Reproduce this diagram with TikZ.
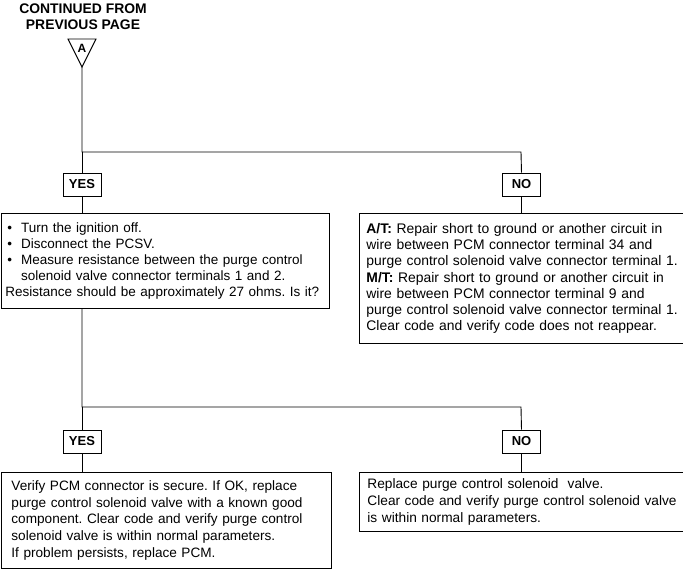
\documentclass[tikz,border=0pt]{standalone}
\usepackage{fontspec}
\setmainfont{Liberation Sans}
\frenchspacing
\begin{document}
\begin{tikzpicture}[x=1pt,y=-1pt,
  every node/.style={font=\fontsize{13.7}{16.3}\selectfont},
  lbl/.style={draw,line width=0.9pt,font=\fontsize{13}{14}\selectfont\bfseries,minimum width=38pt,minimum height=23pt,inner sep=0pt},
  textbox/.style={draw,line width=0.9pt,anchor=north west,align=left,inner ysep=0pt},
  conn/.style={line width=0.9pt}]
\useasboundingbox (0,0) rectangle (683,570);
% title
\node (title) at (83,17) [align=center,font=\fontsize{13.9}{16}\selectfont\bfseries] {CONTINUED FROM\\PREVIOUS PAGE};
\draw[line width=0.9pt] (68,39) -- (96,39) -- (82,67) -- cycle;
\node (A) at (82,48) [font=\fontsize{12}{12}\selectfont\bfseries,inner sep=0pt] {A};
\coordinate (tip) at (82,67);
\coordinate (s1) at (82,152);
\coordinate (s1r) at (521,152);
\node[lbl] (yes1) at (82,184.5) {YES};
\node[lbl] (no1) at (521.5,184.5) {NO};
\node[textbox,minimum width=328pt,minimum height=95pt,text width=320pt,inner xsep=4pt,font=\fontsize{13.5}{16.1}\selectfont] (b1) at (1,213) {%
\hspace{2pt}\textbullet\ \ Turn the ignition off.\\
\hspace{2pt}\textbullet\ \ Disconnect the PCSV.\\
\hspace{2pt}\textbullet\ \ Measure resistance between the purge control\\
\hphantom{\hspace{2pt}\textbullet\ \ }solenoid valve connector terminals 1 and 2.\\
Resistance should be approximately 27 ohms. Is it?};
\node[textbox,minimum width=322pt,minimum height=130pt,text width=312pt,inner xsep=7pt,font=\fontsize{13.9}{16.3}\selectfont] (b2) at (359,213) {%
\textbf{A/T:} Repair short to ground or another circuit in\\
wire between PCM connector terminal 34 and\\
purge control solenoid valve connector terminal 1.\\
\textbf{M/T:} Repair short to ground or another circuit in\\
wire between PCM connector terminal 9 and\\
purge control solenoid valve connector terminal 1.\\
Clear code and verify code does not reappear.};
\coordinate (s2) at (82,407);
\coordinate (s2r) at (521,407);
\node[lbl] (yes2) at (82,441.5) {YES};
\node[lbl] (no2) at (521.5,441.5) {NO};
\node[textbox,minimum width=328pt,minimum height=96pt,text width=310pt,inner xsep=10pt,font=\fontsize{13.6}{16.6}\selectfont] (b3) at (1,472) {%
Verify PCM connector is secure. If OK, replace\\
purge control solenoid valve with a known good\\
component. Clear code and verify purge control\\
solenoid valve is within normal parameters.\\
If problem persists, replace PCM.};
\node[textbox,minimum width=322pt,minimum height=59pt,text width=312pt,inner xsep=8pt,font=\fontsize{13.7}{16.6}\selectfont] (b4) at (359,472) {%
Replace purge control solenoid\ \ valve.\\
Clear code and verify purge control solenoid valve\\
is within normal parameters.};
% connectors
\draw[conn] (tip) -- (s1) -- (s1r) -- (no1.north);
\draw[conn] (s1) -- (yes1.north);
\draw[conn] (yes1.south) -- (yes1.south |- b1.north);
\draw[conn] (no1.south) -- (no1.south |- b2.north);
\draw[conn] (yes1.south |- b1.south) -- (s2) -- (s2r) -- (no2.north);
\draw[conn] (s2) -- (yes2.north);
\draw[conn] (yes2.south) -- (yes2.south |- b3.north);
\draw[conn] (no2.south) -- (no2.south |- b4.north);
\end{tikzpicture}
\end{document}
